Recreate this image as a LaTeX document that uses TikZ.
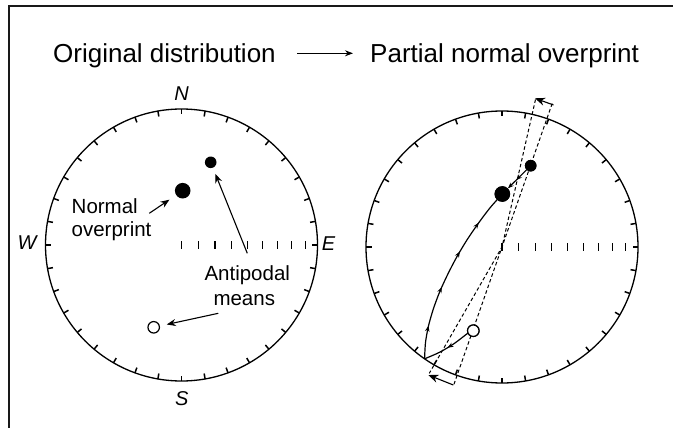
\documentclass[tikz,border=0pt]{standalone}
\usepackage{fontspec}
\setmainfont{Liberation Sans}
\usetikzlibrary{arrows.meta,decorations.markings}
\begin{document}
\begin{tikzpicture}[x=1pt,y=-1pt,
  frameline/.style={line width=2.2pt, black!90},
  prim/.style={line width=1.3pt},
  rimtick/.style={line width=1.5pt},
  inctick/.style={line width=1.2pt},
  bigdot/.style={circle, fill=black, inner sep=0pt, minimum size=15.6pt},
  smalldot/.style={circle, fill=black, inner sep=0pt, minimum size=11.6pt},
  opendot/.style={circle, draw=black, fill=white, line width=1.2pt, inner sep=0pt, minimum size=11.5pt},
  ttl/.style={font=\fontsize{26}{30}\selectfont, inner sep=0pt},
  lbl/.style={font=\fontsize{20.5}{24}\selectfont, inner sep=0pt},
  dirlbl/.style={font=\fontsize{20}{24}\selectfont\itshape, inner sep=0pt},
  ptr/.style={line width=1.1pt, -{Stealth[length=9pt,width=7pt]}},
  path/.style={line width=1.2pt},
  dashln/.style={line width=1pt, dash pattern=on 3.5pt off 2.5pt},
  midarrows/.style={postaction={decorate}, decoration={markings,
     mark=at position 0.18 with {\arrow{Stealth[length=6pt,width=4.5pt]}},
     mark=at position 0.40 with {\arrow{Stealth[length=6pt,width=4.5pt]}},
     mark=at position 0.615 with {\arrow{Stealth[length=6pt,width=4.5pt]}},
     mark=at position 0.80 with {\arrow{Stealth[length=6pt,width=4.5pt]}}}},
  midarrow/.style={postaction={decorate}, decoration={markings,
     mark=at position 0.55 with {\arrow{Stealth[length=6pt,width=4.5pt]}}}},
  rot/.style={line width=1.1pt, -{Stealth[length=10pt,width=8pt]}}
]
\useasboundingbox (0,0) rectangle (673,428);
% frame
\draw[frameline] (8.6,430) -- (8.6,6.2) -- (675,6.2);

% title
\node[ttl, anchor=base west] (t1) at (53,62.5) {Original distribution};
\node[ttl, anchor=base west] (t2) at (370,62.5) {Partial normal overprint};
\coordinate (ta) at (297,53.3);
\coordinate (tb) at (353,53.3);
\draw[line width=1pt, -{Stealth[length=8pt,width=6pt]}] (ta) -- (tb);

% ---------- left net ----------
\begin{scope}[shift={(181.5,245)}]
  \draw[prim] (0,0) circle[radius=136pt];
  \foreach \a in {0,10,...,350} \draw[rimtick] (\a:136pt) -- (\a:130.5pt);
  \foreach \r in {0,16.76,33.40,49.78,65.78,81.28,96.17,110.32,123.63}
    \draw[inctick] (\r,-4) -- (\r,4);
\end{scope}
\node[dirlbl] (N) at (181.7,93.3) {N};
\node[dirlbl] (S) at (181.7,399) {S};
\node[dirlbl] (W) at (27,243) {W};
\node[dirlbl] (E) at (328.5,243.5) {E};

\node[bigdot] (Lbig) at (182.7,190.7) {};
\node[smalldot] (Lsmall) at (210.7,162.3) {};
\node[opendot] (Lopen) at (153.7,327.3) {};

\node[lbl, anchor=base west] (nor1) at (71.5,213.3) {Normal};
\node[lbl, anchor=base west] (nor2) at (71.5,236.7) {overprint};
\node[lbl, anchor=base west] (ant1) at (204.3,280) {Antipodal};
\node[lbl, anchor=base west] (ant2) at (213.3,305) {means};

\coordinate (nt) at (149.3,213.3);
\coordinate (at) at (247.3,253.3);
\coordinate (mt) at (218.3,313.3);
\draw[ptr, shorten >=8pt] (nt) -- (Lbig);
\draw[ptr, shorten >=6.5pt] (at) -- (Lsmall);
\draw[ptr, shorten >=7pt] (mt) -- (Lopen);

% ---------- right net ----------
\begin{scope}[shift={(502,247)}]
  \draw[prim] (0,0) circle[radius=136pt];
  \foreach \a in {0,10,...,350} \draw[rimtick] (\a:136pt) -- (\a:130.5pt);
  \foreach \r in {0,16.76,33.40,49.78,65.78,81.28,96.17,110.32,123.63}
    \draw[inctick] (\r,-4) -- (\r,4);
  \coordinate (Rc) at (0,0);
  % great circle points
  \coordinate (P) at (-77.4,111.8);
  \coordinate (g1) at (-76.5,95.5);
  \coordinate (g2) at (-73.5,78.9);
  \coordinate (g3) at (-68.6,61.8);
  \coordinate (g4) at (-62.2,44.6);
  \coordinate (g5) at (-54.2,27.2);
  \coordinate (g6) at (-45.3,10.1);
  \coordinate (g7) at (-35.2,-6.8);
  \coordinate (g8) at (-24.0,-23.2);
  \coordinate (g9) at (-12.1,-39.0);
  \coordinate (h1) at (-33.7,85.9);
  \coordinate (h2) at (-47.9,96.6);
  \coordinate (h3) at (-62.5,105.3);
  % dashed axis ends
  \coordinate (Bt) at (50.2,-143.5);
  \coordinate (Bb) at (-48.3,138);
  \coordinate (At) at (33.5,-147.5);
  \coordinate (Ab) at (-72.7,126.3);
  \coordinate (rt1) at (51.5,-142);
  \coordinate (rt2) at (33,-148.7);
  \coordinate (rb1) at (-48.7,138);
  \coordinate (rb2) at (-73.7,128);
\end{scope}
\node[bigdot] (Rbig) at (502.3,194) {};
\node[smalldot] (Rsmall) at (530.7,165.7) {};
\node[opendot] (Ropen) at (473.3,330.7) {};

\draw[dashln] (Bt) -- (Bb);
\draw[dashln] (At) -- (Rc) -- (Ab);
\draw[rot] (rt1) -- (rt2);
\draw[rot] (rb1) -- (rb2);

\draw[path, midarrows] plot[smooth] coordinates {(P) (g1) (g2) (g3) (g4) (g5) (g6) (g7) (g8) (g9) (Rbig)};
\draw[path, midarrow] plot[smooth] coordinates {(Ropen) (h1) (h2) (h3) (P)};
\draw[path, midarrow, -{Stealth[length=6pt,width=4.5pt]}] (Rsmall) -- (Rbig);

\node[bigdot] at (Rbig) {};
\node[smalldot] at (Rsmall) {};
\node[opendot] at (Ropen) {};
\end{tikzpicture}
\end{document}
